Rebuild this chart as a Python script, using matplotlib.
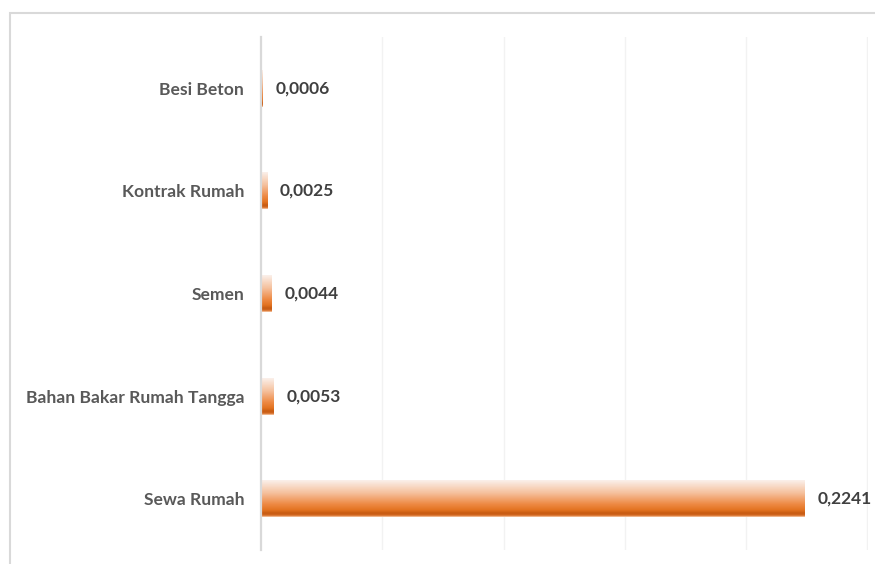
import matplotlib.pyplot as plt
import matplotlib.transforms as mtransforms
import numpy as np
from matplotlib.colors import LinearSegmentedColormap
from matplotlib.patches import Rectangle

categories = ['Sewa Rumah', 'Bahan Bakar Rumah Tangga', 'Semen', 'Kontrak Rumah', 'Besi Beton']
values = [0.2241, 0.0053, 0.0044, 0.0025, 0.0006]
labels = ['0,2241', '0,0053', '0,0044', '0,0025', '0,0006']

plt.rcParams['font.family'] = ['Lato', 'DejaVu Sans']

# gradient like excel bars: light at top, dark band near the bottom
grad = LinearSegmentedColormap.from_list('bar', [
    (0.0, '#fbf0ea'), (0.35, '#f5c09c'), (0.65, '#ee8a45'),
    (0.82, '#e2721f'), (0.9, '#c65a12'), (0.96, '#d46a22'), (1.0, '#f7c8a6')])

fig = plt.figure(figsize=(8.75, 5.64), dpi=100)
ax = fig.add_axes([261 / 875, 14 / 564, 607 / 875, 513 / 564])

h = 0.36
img = np.linspace(0, 1, 100).reshape(-1, 1)
shift = ax.transData + mtransforms.ScaledTranslation(13 / 100, 0, fig.dpi_scale_trans)
for i, v in enumerate(values):
    ax.imshow(img, cmap=grad, aspect='auto', interpolation='bilinear',
              extent=[0, v, i - h / 2, i + h / 2], origin='upper', zorder=2)
    ax.text(v, i, labels[i], ha='left', va='center', fontsize=12.5, fontweight='bold',
            color='#404040', transform=shift)

ax.set_xlim(0, 0.2503)
ax.set_ylim(-0.5, 4.5)
ax.set_xticks(np.arange(0.05, 0.26, 0.05))
ax.set_xticklabels([])
ax.tick_params(axis='x', length=0)
ax.xaxis.grid(True, color='#f2f2f2', linewidth=1)
ax.set_axisbelow(True)
ax.set_yticks(range(len(categories)))
ax.set_yticklabels(categories, fontsize=12.6, fontweight='bold', color='#595959')
ax.tick_params(axis='y', length=0, pad=12)
for s in ['top', 'right', 'bottom']:
    ax.spines[s].set_visible(False)
ax.spines['left'].set_color('#d9d9d9')
ax.spines['left'].set_linewidth(1.6)
ax.spines['left'].set_zorder(3)

fig.patches.append(Rectangle((10 / 875, -0.1), 2, 1.1 - 13 / 564, transform=fig.transFigure,
                             fill=False, edgecolor='#d9d9d9', linewidth=1.5))

fig.savefig('out.png', dpi=100)
